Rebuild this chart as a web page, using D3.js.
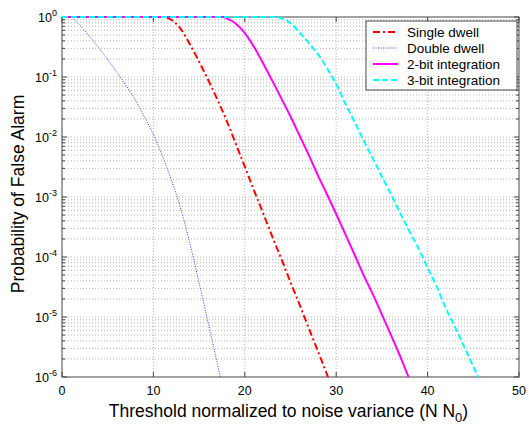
<!DOCTYPE html>
<html>
<head>
<meta charset="utf-8">
<script src="https://cdn.jsdelivr.net/npm/d3@7"></script>
<style>
  body { margin: 0; background: #fff; }
  svg { display: block; font-family: "Liberation Sans", Arial, sans-serif; }
</style>
</head>
<body>
<div id="chart"></div>
<script>
// values: threshold (N N0) -> probability of false alarm
const singleX = [0, 11.2, 12, 13, 14, 15, 16, 17, 18, 19, 20, 21, 22, 23, 24, 25, 26, 27, 28, 29, 30];
const singleP = [1, 1, 0.89, 0.63, 0.35, 0.18, 0.089, 0.042, 0.019, 7.8e-3, 3.2e-3, 1.3e-3, 5.4e-4, 2.2e-4, 9.3e-5, 3.8e-5, 1.6e-5, 6.5e-6, 2.7e-6, 1.1e-6, 4.5e-7];

const doubleX = [1.0, 2, 3, 4, 5, 6, 7, 8, 9, 10, 11, 12, 13, 14, 15, 16, 17, 17.6];
const doubleP = [1, 0.72, 0.48, 0.31, 0.195, 0.12, 0.072, 0.042, 0.022, 0.011, 4.8e-3, 1.86e-3, 6.3e-4, 1.66e-4, 3.7e-5, 7.9e-6, 1.66e-6, 6.3e-7];

const twoBitX = [0, 17.6, 18, 19, 20, 21, 22, 23, 24, 25, 26, 27, 28, 29, 30, 31, 32, 33, 34, 35, 36, 37, 38];
const twoBitP = [1, 1, 0.95, 0.78, 0.54, 0.32, 0.17, 0.087, 0.044, 0.022, 0.0105, 5.0e-3, 2.3e-3, 1.1e-3, 5.2e-4, 2.4e-4, 1.1e-4, 5.0e-5, 2.4e-5, 1.1e-5, 5.0e-6, 2.2e-6, 9.3e-7];

const threeBitX = [0, 23.5, 24, 25, 26, 27, 28, 29, 30, 31, 32, 33, 34, 35, 36, 37, 38, 39, 40, 41, 42, 43, 44, 45, 46];
const threeBitP = [1, 1, 0.95, 0.79, 0.55, 0.37, 0.24, 0.14, 0.076, 0.036, 0.018, 8.7e-3, 4.4e-3, 2.2e-3, 1.1e-3, 5.4e-4, 2.7e-4, 1.4e-4, 6.6e-5, 3.2e-5, 1.4e-5, 6.8e-6, 3.2e-6, 1.5e-6, 6.8e-7];

const seriesNames = ['Single dwell', 'Double dwell', '2-bit integration', '3-bit integration'];
const xTicks = [0, 10, 20, 30, 40, 50];
const yExponents = [0, -1, -2, -3, -4, -5, -6];

const series = [
  { name: seriesNames[0], x: singleX, p: singleP, color: '#ff0000', width: 2, dash: '7,3,2,3' },
  { name: seriesNames[1], x: doubleX, p: doubleP, color: '#3333ff', width: 1, dash: '1,1.5' },
  { name: seriesNames[2], x: twoBitX, p: twoBitP, color: '#ff00ff', width: 2, dash: null },
  { name: seriesNames[3], x: threeBitX, p: threeBitP, color: '#00ffff', width: 2, dash: '6,3' },
];

const margin = { top: 17, right: 10, bottom: 51, left: 62 };
const W = 529, H = 428;
const width = W - margin.left - margin.right;
const height = H - margin.top - margin.bottom;

const svg = d3.select('#chart').append('svg')
  .attr('width', W).attr('height', H);

const g = svg.append('g')
  .attr('transform', `translate(${margin.left},${margin.top})`);

const x = d3.scaleLinear().domain([0, 50]).range([0, width]);
const y = d3.scaleLog().domain([1e-6, 1]).range([height, 0]);

// grid: major x, all y (major + minor) - dotted
const minorY = [];
for (let e = -6; e < 0; e++) {
  for (let k = 1; k <= 9; k++) minorY.push(k * Math.pow(10, e));
}
g.append('g').selectAll('line')
  .data(minorY.filter((v) => v > 1e-6))
  .enter().append('line')
  .attr('x1', 0).attr('x2', width)
  .attr('y1', (d) => y(d)).attr('y2', (d) => y(d))
  .attr('stroke', '#b4b4b4')
  .attr('stroke-dasharray', '1,2');
g.append('g').selectAll('line')
  .data(xTicks.slice(1, -1))
  .enter().append('line')
  .attr('x1', (d) => x(d)).attr('x2', (d) => x(d))
  .attr('y1', 0).attr('y2', height)
  .attr('stroke', '#b4b4b4')
  .attr('stroke-dasharray', '1,2');

// box + inside ticks
g.append('rect')
  .attr('width', width).attr('height', height)
  .attr('fill', 'none').attr('stroke', '#444');

const tickG = g.append('g').attr('stroke', '#444');
xTicks.forEach((t) => {
  tickG.append('line').attr('x1', x(t)).attr('x2', x(t)).attr('y1', height).attr('y2', height - 5);
  tickG.append('line').attr('x1', x(t)).attr('x2', x(t)).attr('y1', 0).attr('y2', 5);
});
minorY.concat([1]).forEach((v) => {
  const major = Math.abs(Math.log10(v) - Math.round(Math.log10(v))) < 1e-9;
  const len = major ? 5 : 3;
  tickG.append('line').attr('x1', 0).attr('x2', len).attr('y1', y(v)).attr('y2', y(v));
  tickG.append('line').attr('x1', width).attr('x2', width - len).attr('y1', y(v)).attr('y2', y(v));
});

// tick labels
g.append('g').selectAll('text')
  .data(xTicks)
  .enter().append('text')
  .attr('x', (d) => x(d))
  .attr('y', height + 18)
  .attr('text-anchor', 'middle')
  .attr('font-size', 12.5)
  .text((d) => d);

const yl = g.append('g').selectAll('text')
  .data(yExponents)
  .enter().append('text')
  .attr('x', -5)
  .attr('y', (d) => y(Math.pow(10, d)) + 5)
  .attr('text-anchor', 'end')
  .attr('font-size', 12.5);
yl.append('tspan').text('10');
yl.append('tspan').attr('dy', -6).attr('font-size', 9).text((d) => d);

// curves
g.append('clipPath').attr('id', 'clip')
  .append('rect').attr('x', 0).attr('y', -1).attr('width', width).attr('height', height + 1);

const line = d3.line()
  .x((d) => x(d[0]))
  .y((d) => y(d[1]))
  .curve(d3.curveMonotoneX);

g.append('g').attr('clip-path', 'url(#clip)')
  .selectAll('path')
  .data(series)
  .enter().append('path')
  .attr('d', (s) => line(s.x.map((v, i) => [v, s.p[i]])))
  .attr('fill', 'none')
  .attr('stroke', (s) => s.color)
  .attr('stroke-width', (s) => s.width)
  .attr('stroke-dasharray', (s) => s.dash);

// legend
const lg = g.append('g').attr('transform', `translate(${366 - margin.left},${21 - margin.top})`);
lg.append('rect')
  .attr('width', 151).attr('height', 69)
  .attr('fill', '#fff').attr('stroke', '#444');
series.forEach((s, i) => {
  const yy = 11 + i * 16;
  lg.append('line')
    .attr('x1', 7).attr('x2', 32).attr('y1', yy).attr('y2', yy)
    .attr('stroke', s.color)
    .attr('stroke-width', s.width)
    .attr('stroke-dasharray', s.dash);
  lg.append('text')
    .attr('x', 41).attr('y', yy + 5)
    .attr('font-size', 13.5)
    .text(s.name);
});

// axis titles
svg.append('text')
  .attr('transform', `translate(24,${margin.top + height / 2 - 3}) rotate(-90)`)
  .attr('text-anchor', 'middle')
  .attr('font-size', 17.5)
  .text('Probability of False Alarm');

const xt = svg.append('text')
  .attr('x', margin.left + width / 2 - 2)
  .attr('y', 417)
  .attr('text-anchor', 'middle')
  .attr('font-size', 17.5);
xt.append('tspan').text('Threshold normalized to noise variance (N N');
xt.append('tspan').attr('dy', 5).attr('font-size', 13).text('0');
xt.append('tspan').attr('dy', -5).text(')');
</script>
</body>
</html>
